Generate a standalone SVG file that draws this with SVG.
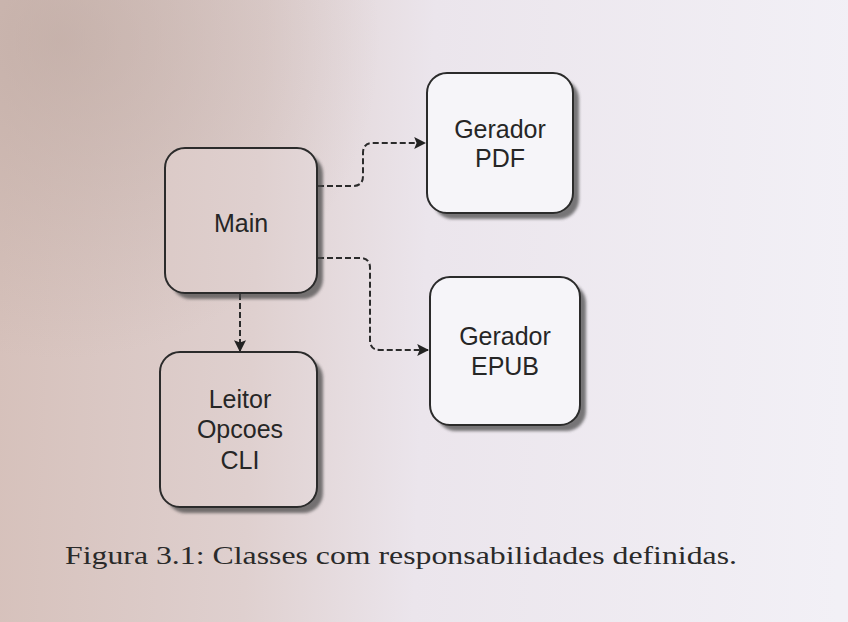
<svg xmlns="http://www.w3.org/2000/svg" width="848" height="622" viewBox="0 0 848 622">
<defs>
<linearGradient id="bg" gradientUnits="userSpaceOnUse" x1="0" y1="300" x2="848" y2="330">
<stop offset="0" stop-color="#d6c1bb"/>
<stop offset="0.3" stop-color="#dfd0cf"/>
<stop offset="0.5" stop-color="#ebe5ec"/>
<stop offset="1" stop-color="#f2f0f6"/>
</linearGradient>
<radialGradient id="shade" gradientUnits="userSpaceOnUse" cx="60" cy="40" r="320">
<stop offset="0" stop-color="#b8a39b" stop-opacity="0.55"/>
<stop offset="1" stop-color="#b8a39b" stop-opacity="0"/>
</radialGradient>
<marker id="arr" viewBox="0 0 10 10" refX="9" refY="5" markerWidth="12" markerHeight="12" orient="auto" markerUnits="userSpaceOnUse">
<path d="M0,0 L10,5 L0,10 L2,5 z" fill="#222"/>
</marker>
<filter id="blur" x="-10%" y="-10%" width="130%" height="130%"><feGaussianBlur stdDeviation="1.5"/></filter>
</defs>
<style>
.box{fill:url(#bg);stroke:#2b2b2b;stroke-width:2}
.wbox{fill:#f6f5f9;stroke:#2b2b2b;stroke-width:2}
.sh{fill:#444;opacity:0.7;filter:url(#blur)}
.lbl{font-family:"Liberation Sans",Arial,sans-serif;font-size:25px;fill:#262626;text-anchor:middle}
.con{fill:none;stroke:#2b2b2b;stroke-width:2;stroke-dasharray:6,3}
.cap{font-family:"Liberation Serif","Times New Roman",serif;font-size:26px;fill:#2a2a2a}
</style>
<rect x="0" y="0" width="848" height="622" fill="url(#bg)"/>
<rect x="0" y="0" width="848" height="622" fill="url(#shade)"/>

<g id="connectors">
<path class="con" d="M318,186 H353 Q363,186 363,176 V153 Q363,143 373,143 H425" marker-end="url(#arr)"/>
<path class="con" d="M318,258 H360 Q370,258 370,268 V340 Q370,350 380,350 H428" marker-end="url(#arr)"/>
<path class="con" d="M240,294 V351" marker-end="url(#arr)"/>
</g>

<g id="main">
<rect class="sh" x="171" y="154" width="152" height="145" rx="20"/>
<rect class="box" x="165" y="148" width="152" height="145" rx="20"/>
<text class="lbl" x="241" y="232">Main</text>
</g>

<g id="gerador-pdf">
<rect class="sh" x="433" y="79" width="146" height="140" rx="20"/>
<rect class="wbox" x="427" y="73" width="146" height="140" rx="20"/>
<text class="lbl" x="500" y="138">Gerador</text>
<text class="lbl" x="500" y="167">PDF</text>
</g>

<g id="gerador-epub">
<rect class="sh" x="436" y="283" width="150" height="148" rx="20"/>
<rect class="wbox" x="430" y="277" width="150" height="148" rx="20"/>
<text class="lbl" x="505" y="345">Gerador</text>
<text class="lbl" x="505" y="375">EPUB</text>
</g>

<g id="leitor-opcoes-cli">
<rect class="sh" x="166" y="358" width="157" height="155" rx="20"/>
<rect class="box" x="160" y="352" width="157" height="155" rx="20"/>
<text class="lbl" x="240" y="408">Leitor</text>
<text class="lbl" x="240" y="438">Opcoes</text>
<text class="lbl" x="240" y="469">CLI</text>
</g>

<text class="cap" x="65" y="564" textLength="672" lengthAdjust="spacingAndGlyphs">Figura 3.1: Classes com responsabilidades definidas.</text>
</svg>
